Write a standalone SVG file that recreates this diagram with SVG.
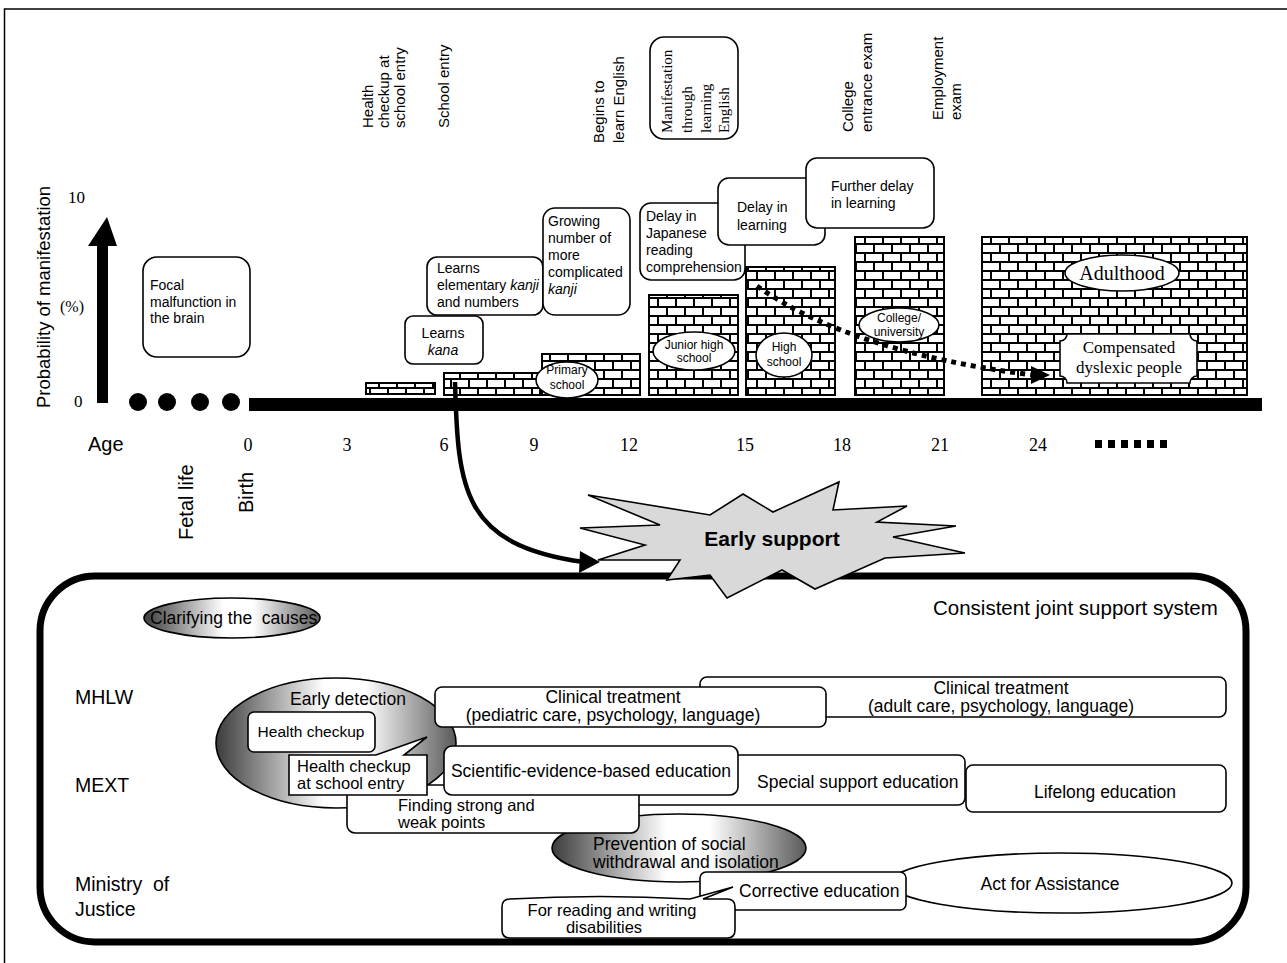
<svg xmlns="http://www.w3.org/2000/svg" width="1287" height="963" viewBox="0 0 1287 963">
<defs>
<style>
.s{font-family:"Liberation Sans",Arial,sans-serif;fill:#000}
.r{font-family:"Liberation Serif","Times New Roman",serif;fill:#000}
.box{fill:#fff;stroke:#000;stroke-width:1.6}
.bk{fill:url(#brick);stroke:#000;stroke-width:2}
.el{fill:#fff;stroke:#000;stroke-width:1.6}
.ge{fill:url(#grad);stroke:#000;stroke-width:1.6}
.t12{font-size:12px}
.t14{font-size:14px}
.t15{font-size:15px}
.b{font-size:17.5px}
.bs{font-size:16.5px}
.i{font-style:italic}
</style>
<pattern id="brick" width="18" height="18" patternUnits="userSpaceOnUse">
<rect width="18" height="18" fill="#fff"/>
<path d="M0,1H18M0,10H18M1,1V10M10,10V19" stroke="#000" stroke-width="2" fill="none"/>
</pattern>
<linearGradient id="grad" x1="0" y1="0" x2="1" y2="0">
<stop offset="0" stop-color="#3c3c3c"/>
<stop offset="0.45" stop-color="#ffffff"/>
<stop offset="0.62" stop-color="#ffffff"/>
<stop offset="1" stop-color="#5a5a5a"/>
</linearGradient>
</defs>
<rect width="1287" height="963" fill="#fff"/>
<path d="M4.5,963V9H1287" fill="none" stroke="#000" stroke-width="1.5"/>

<!-- Y axis -->
<g id="yaxis">
<rect x="97" y="244" width="11" height="159" fill="#000"/>
<polygon points="88,246 107,217 117,246" fill="#000"/>
<text class="s" font-size="18.5" transform="translate(50,408) rotate(-90)">Probability of manifestation</text>
<text class="r" font-size="17" x="68" y="203">10</text>
<text class="r" font-size="17" x="74" y="407">0</text>
<text class="r" font-size="16" x="60" y="312">(%)</text>
</g>

<!-- top rotated labels -->
<g id="labels-top" class="s t15">
<text transform="translate(373,128) rotate(-90)">Health</text>
<text transform="translate(389,128) rotate(-90)">checkup at</text>
<text transform="translate(405,128) rotate(-90)">school entry</text>
<text transform="translate(449,128) rotate(-90)">School entry</text>
<text transform="translate(604,143) rotate(-90)">Begins to</text>
<text transform="translate(624,143) rotate(-90)">learn English</text>
<text transform="translate(853,132) rotate(-90)">College</text>
<text transform="translate(872,132) rotate(-90)">entrance exam</text>
<text transform="translate(943,120) rotate(-90)">Employment</text>
<text transform="translate(961,120) rotate(-90)">exam</text>
</g>

<g id="manifestation">
<rect class="box" x="650" y="37" width="88" height="102" rx="14"/>
<g class="r t15">
<text transform="translate(672,133) rotate(-90)">Manifestation</text>
<text transform="translate(692,133) rotate(-90)">through</text>
<text transform="translate(711,133) rotate(-90)">learning</text>
<text transform="translate(729,133) rotate(-90)">English</text>
</g>
</g>

<!-- brick blocks -->
<g id="blocks">
<rect class="bk" x="366" y="383" width="69" height="11"/>
<rect class="bk" x="444" y="373" width="96" height="22"/>
<rect class="bk" x="542" y="354" width="98" height="41"/>
<rect class="bk" x="649" y="295" width="89" height="100"/>
<rect class="bk" x="746" y="267" width="89" height="128"/>
<rect class="bk" x="855" y="237" width="89" height="158"/>
<rect class="bk" x="982" y="237" width="265" height="158"/>
</g>

<g id="stage-primary">
<ellipse class="el" cx="567" cy="380" rx="31" ry="18"/>
<text class="s t12" text-anchor="middle"><tspan x="567" y="374">Primary</tspan><tspan x="567" y="389">school</tspan></text>
</g>
<g id="stage-junior">
<ellipse class="el" cx="694" cy="351" rx="41" ry="19"/>
<text class="s t12" text-anchor="middle"><tspan x="694" y="349">Junior high</tspan><tspan x="694" y="362">school</tspan></text>
</g>
<g id="stage-high">
<ellipse class="el" cx="784" cy="355" rx="28" ry="22"/>
<text class="s t12" text-anchor="middle"><tspan x="784" y="351">High</tspan><tspan x="784" y="366">school</tspan></text>
</g>
<g id="stage-college">
<ellipse class="el" cx="899" cy="325" rx="40" ry="17"/>
<text class="s t12" text-anchor="middle"><tspan x="899" y="322">College/</tspan><tspan x="899" y="336">university</tspan></text>
</g>
<g id="stage-adult">
<ellipse class="el" cx="1122" cy="273" rx="57" ry="18"/>
<text class="r" font-size="20" x="1122" y="280" text-anchor="middle">Adulthood</text>
</g>
<g id="compensated">
<path class="box" d="M1067,334H1190A7,7 0 0 0 1197,341V376A7,7 0 0 0 1190,383H1067A7,7 0 0 0 1060,376V341A7,7 0 0 0 1067,334Z"/>
<text class="r" font-size="17" text-anchor="middle"><tspan x="1129" y="353">Compensated</tspan><tspan x="1129" y="373">dyslexic people</tspan></text>
</g>

<!-- top boxes -->
<g id="focal">
<rect class="box" x="143" y="257" width="107" height="100" rx="14"/>
<text class="s t14"><tspan x="150" y="290">Focal</tspan><tspan x="150" y="307">malfunction in</tspan><tspan x="150" y="323">the brain</tspan></text>
</g>
<g id="kana">
<rect class="box" x="405" y="316" width="78" height="48" rx="8"/>
<text class="s t14" text-anchor="middle"><tspan x="443" y="338">Learns</tspan><tspan x="443" y="355" class="i">kana</tspan></text>
</g>
<g id="elementary">
<rect class="box" x="427" y="257" width="116" height="58" rx="10"/>
<text class="s t14"><tspan x="437" y="273">Learns</tspan><tspan x="437" y="290">elementary <tspan class="i">kanji</tspan></tspan><tspan x="437" y="307">and numbers</tspan></text>
</g>
<g id="growing">
<rect class="box" x="543" y="208" width="87" height="107" rx="12"/>
<text class="s t14"><tspan x="548" y="226">Growing</tspan><tspan x="548" y="243">number of</tspan><tspan x="548" y="260">more</tspan><tspan x="548" y="277">complicated</tspan><tspan x="548" y="294" class="i">kanji</tspan></text>
</g>
<g id="delay-japanese">
<rect class="box" x="640" y="203" width="105" height="77" rx="11"/>
<text class="s t14"><tspan x="646" y="221">Delay in</tspan><tspan x="646" y="238">Japanese</tspan><tspan x="646" y="255">reading</tspan><tspan x="646" y="272">comprehension</tspan></text>
</g>
<g id="delay-learning">
<rect class="box" x="718" y="178" width="107" height="67" rx="11"/>
<text class="s t14"><tspan x="737" y="212">Delay in</tspan><tspan x="737" y="230">learning</tspan></text>
</g>
<g id="further-delay">
<rect class="box" x="806" y="158" width="128" height="70" rx="11"/>
<text class="s t14"><tspan x="831" y="191">Further delay</tspan><tspan x="831" y="208">in learning</tspan></text>
</g>

<!-- time axis -->
<g id="timeaxis">
<circle cx="138" cy="402" r="9"/>
<circle cx="167" cy="402" r="9"/>
<circle cx="200" cy="402" r="9"/>
<circle cx="231" cy="402" r="9"/>
<rect x="249" y="398" width="1013" height="13" fill="#000"/>
<text class="s" font-size="20" x="88" y="451">Age</text>
<g class="r" font-size="18" text-anchor="middle">
<text x="248" y="451">0</text>
<text x="347" y="451">3</text>
<text x="444" y="451">6</text>
<text x="534" y="451">9</text>
<text x="629" y="451">12</text>
<text x="745" y="451">15</text>
<text x="842" y="451">18</text>
<text x="940" y="451">21</text>
<text x="1038" y="451">24</text>
</g>
<g fill="#000">
<rect x="1095" y="440" width="7" height="8"/>
<rect x="1108" y="440" width="7" height="8"/>
<rect x="1121" y="440" width="7" height="8"/>
<rect x="1134" y="440" width="7" height="8"/>
<rect x="1147" y="440" width="7" height="8"/>
<rect x="1160" y="440" width="7" height="8"/>
</g>
<text class="s" font-size="20" transform="translate(193,540) rotate(-90)">Fetal life</text>
<text class="s" font-size="20" transform="translate(253,513) rotate(-90)">Birth</text>
</g>

<!-- bottom frame -->
<g id="support-frame">
<rect x="40" y="576" width="1206" height="366" rx="55" fill="#fff" stroke="#000" stroke-width="7"/>
<text class="s" font-size="20.5" x="933" y="615">Consistent joint support system</text>
<text class="s" font-size="19.5" x="75" y="704">MHLW</text>
<text class="s" font-size="19.5" x="75" y="792">MEXT</text>
<text class="s" font-size="19.5" x="75" y="891">Ministry&#160; of</text>
<text class="s" font-size="19.5" x="75" y="916">Justice</text>
</g>

<g id="clarifying">
<ellipse class="ge" cx="232" cy="618" rx="88" ry="20"/>
<text class="s b" x="150" y="624">Clarifying the&#160; causes</text>
</g>
<g id="early-detection">
<ellipse class="ge" cx="336" cy="743" rx="120" ry="65"/>
<text class="s b" x="348" y="705" text-anchor="middle">Early detection</text>
</g>
<g id="clinical-adult">
<rect class="box" x="700" y="677" width="526" height="40" rx="7"/>
<text class="s b" text-anchor="middle"><tspan x="1001" y="694">Clinical treatment</tspan><tspan x="1001" y="712">(adult care, psychology, language)</tspan></text>
</g>
<g id="clinical-pediatric">
<rect class="box" x="435" y="687" width="391" height="40" rx="7"/>
<text class="s b" text-anchor="middle"><tspan x="613" y="703">Clinical treatment</tspan><tspan x="613" y="721">(pediatric care, psychology, language)</tspan></text>
</g>
<g id="special-support">
<rect class="box" x="620" y="755" width="345" height="50" rx="7"/>
<text class="s b" x="757" y="788">Special support education</text>
</g>
<g id="lifelong">
<rect class="box" x="966" y="765" width="260" height="47" rx="7"/>
<text class="s b" x="1105" y="798" text-anchor="middle">Lifelong education</text>
</g>
<g id="prevention">
<ellipse class="ge" cx="679" cy="848" rx="127" ry="34"/>
<text class="s b"><tspan x="593" y="850">Prevention of social</tspan><tspan x="593" y="868">withdrawal and isolation</tspan></text>
</g>
<g id="finding">
<rect class="box" x="347" y="785" width="292" height="48" rx="8"/>
<text class="s bs"><tspan x="398" y="811">Finding strong and</tspan><tspan x="398" y="828">weak points</tspan></text>
</g>
<g id="scientific">
<rect class="box" x="444" y="746" width="294" height="49" rx="8"/>
<text class="s b" x="591" y="777" text-anchor="middle">Scientific-evidence-based education</text>
</g>
<g id="health-checkup">
<rect class="box" x="248" y="712" width="127" height="40" rx="6"/>
<text class="s" font-size="15.5" x="311" y="737" text-anchor="middle">Health checkup</text>
</g>
<g id="health-checkup-school">
<path class="box" d="M289,755H376L427,737L404,755H427V795H289Z"/>
<text class="s bs"><tspan x="297" y="772">Health checkup</tspan><tspan x="297" y="789">at school entry</tspan></text>
</g>
<g id="act-assistance">
<ellipse class="el" cx="1061" cy="883" rx="171" ry="30"/>
<text class="s b" x="1050" y="890" text-anchor="middle">Act for Assistance</text>
</g>
<g id="corrective">
<rect class="box" x="700" y="872" width="206" height="38" rx="6"/>
<text class="s b" x="739" y="897">Corrective education</text>
</g>
<g id="reading-writing">
<path class="box" d="M510,899Q600,894 690,899L733,887L703,899H727Q735,899 735,907V930Q735,938 727,938H510Q502,938 502,930V907Q502,899 510,899Z"/>
<text class="s bs" text-anchor="middle"><tspan x="612" y="916">For reading and writing</tspan><tspan x="604" y="933">disabilities</tspan></text>
</g>

<!-- early support -->
<g id="early-support">
<polygon points="588,495 710,515 743,494 773,512 839,482 833,510 907,506 877,522 956,526 893,537 965,553 885,558 815,589 782,570 727,598 710,575 667,580 680,560 598,560 645,545 580,528 660,525" fill="#d9d9d9" stroke="#000" stroke-width="1.6" stroke-linejoin="miter"/>
<text class="s" font-size="21" font-weight="bold" x="772" y="546" text-anchor="middle">Early support</text>
</g>

<!-- connectors -->
<g id="connectors">
<path d="M455,382C458,490 462,545 584,562" fill="none" stroke="#000" stroke-width="4.5"/>
<polygon points="580,551 600,562 579,573" fill="#000"/>
<path d="M757,286Q850,352 1033,375" fill="none" stroke="#000" stroke-width="5" stroke-dasharray="5,5"/>
<polygon points="1031,366 1050,375 1031,384" fill="#000"/>
</g>
</svg>
